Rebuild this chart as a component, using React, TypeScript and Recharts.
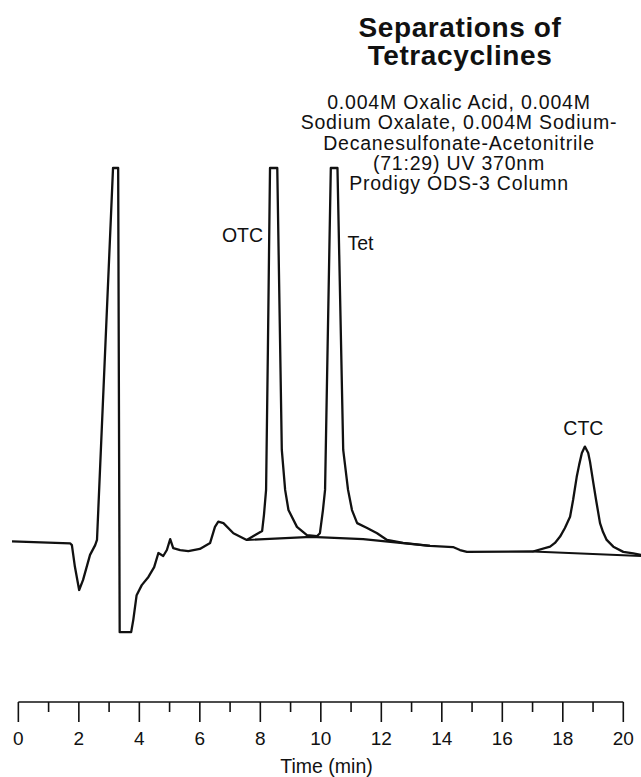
import React from "react";
import { LineChart, Line, XAxis, YAxis, ReferenceLine, ReferenceDot } from "recharts";

// retention time (min) and detector signal (arbitrary units, off-scale peaks clipped at 100)
const traceTime = [
  -0.21, 1.71, 1.77, 1.87, 2.01, 2.14, 2.37, 2.54, 2.6, 3.13, 3.3, 3.35, 3.73, 3.8, 3.91, 4.08,
  4.3, 4.49, 4.63, 4.79, 4.91, 5.02, 5.12, 5.35, 5.62, 6.0, 6.34, 6.5, 6.61, 6.78, 7.11, 7.55,
  7.83, 8.06, 8.12, 8.19, 8.25, 8.32, 8.56, 8.71, 8.82, 8.93, 9.21, 9.54, 9.87, 9.97, 10.07,
  10.14, 10.33, 10.55, 10.74, 10.9, 11.03, 11.2, 11.53, 11.86, 12.19, 12.72, 13.61, 14.37,
  14.6, 14.83, 17.01, 17.58, 17.74, 17.91, 18.07, 18.24, 18.34, 18.46, 18.54, 18.63, 18.73,
  18.84, 18.9, 19.01, 19.1, 19.23, 19.33, 19.45, 19.67, 20.0, 20.33, 20.585,
];
const traceSignal = [
  0, -0.5, -1.0, -6.8, -13.0, -10.3, -3.6, -1.0, 0.4, 100, 100, -24.3, -24.3, -21.0, -14.4,
  -11.7, -9.5, -6.9, -3.1, -3.9, -2.3, 0.6, -1.8, -2.3, -2.6, -2.0, -0.4, 3.9, 5.3, 4.9, 2.2,
  0.4, 1.7, 2.8, 7.1, 13.8, 51.3, 100, 100, 24.5, 13.8, 8.4, 3.9, 1.7, 1.4, 2.2, 8.4, 13.8,
  100, 100, 24.5, 13.8, 8.4, 4.9, 3.6, 2.2, 0.4, -0.4, -1.2, -1.5, -2.3, -2.8, -2.7, -1.4,
  -0.4, 1.3, 3.6, 6.6, 11.1, 17.3, 20.5, 23.7, 25.4, 23.7, 21.3, 15.6, 11.1, 4.9, 2.5, 0.4,
  -1.4, -2.8, -3.2, -3.6,
];

// drawn integration baselines
const otcTetBaseTime = [7.55, 9.68, 11.4, 13.61];
const otcTetBaseSignal = [0.4, 1.2, 0.6, -1.2];
const ctcBaseTime = [17.01, 20.585];
const ctcBaseSignal = [-2.7, -3.9];

const peakNames = ["OTC", "Tet", "CTC"];
const peakLabelTime = [7.41, 11.31, 18.68];
const peakLabelSignal = [82, 80, 30.3];

const timeTicks = [0, 1, 2, 3, 4, 5, 6, 7, 8, 9, 10, 11, 12, 13, 14, 15, 16, 17, 18, 19, 20];

const titleLines = ["Separations of", "Tetracyclines"];
const conditionLines = [
  "0.004M Oxalic Acid, 0.004M",
  "Sodium Oxalate, 0.004M Sodium-",
  "Decanesulfonate-Acetonitrile",
  "(71:29) UV 370nm",
  "Prodigy ODS-3 Column",
];

const toPoints = (ts: number[], vs: number[]) => ts.map((t, i) => ({ t, signal: vs[i] }));

const trace = toPoints(traceTime, traceSignal);
const otcTetBase = toPoints(otcTetBaseTime, otcTetBaseSignal);
const ctcBase = toPoints(ctcBaseTime, ctcBaseSignal);

const INK = "#111";
const FONT = '"Liberation Sans", Arial, Helvetica, sans-serif';

const TimeTick = (props: any) => {
  const { x, y, payload } = props;
  const major = payload.value % 2 === 0;
  return (
    <g>
      <line x1={x} y1={y} x2={x} y2={y + (major ? 20 : 10)} stroke={INK} strokeWidth={1.6} />
      {major && (
        <text x={x} y={y + 43} textAnchor="middle" fontSize={19} fill={INK}>
          {payload.value}
        </text>
      )}
    </g>
  );
};

export default function App() {
  return (
    <div style={{ position: "absolute", left: 0, top: 0, width: 641, height: 777, fontFamily: FONT, background: "#fff" }}>
      <LineChart width={641} height={777} margin={{ top: 168, right: 0, bottom: 0, left: 12 }}>
        <XAxis
          dataKey="t"
          type="number"
          domain={[-0.21, 20.585]}
          ticks={timeTicks}
          interval={0}
          tickSize={0}
          tickMargin={0}
          axisLine={false}
          tickLine={false}
          tick={<TimeTick />}
          height={75}
          label={{ value: "Time (min)", position: "insideBottom", offset: 4, fontSize: 19.5, fill: INK }}
        />
        <YAxis hide type="number" domain={[-43, 100]} />
        <ReferenceLine
          segment={[
            { x: 0, y: -43 },
            { x: 20, y: -43 },
          ]}
          stroke={INK}
          strokeWidth={1.6}
        />
        <Line
          data={trace}
          dataKey="signal"
          type="linear"
          stroke={INK}
          strokeWidth={2.3}
          strokeLinejoin="round"
          dot={false}
          activeDot={false}
          isAnimationActive={false}
        />
        <Line
          data={otcTetBase}
          dataKey="signal"
          type="linear"
          stroke={INK}
          strokeWidth={2.2}
          dot={false}
          activeDot={false}
          isAnimationActive={false}
        />
        <Line
          data={ctcBase}
          dataKey="signal"
          type="linear"
          stroke={INK}
          strokeWidth={2.2}
          dot={false}
          activeDot={false}
          isAnimationActive={false}
        />
        {peakNames.map((name, i) => (
          <ReferenceDot
            key={name}
            x={peakLabelTime[i]}
            y={peakLabelSignal[i]}
            r={0}
            fill="none"
            stroke="none"
            label={{ value: name, position: "center", fontSize: 19.5, fill: INK }}
          />
        ))}
      </LineChart>
      <svg
        width={641}
        height={200}
        style={{ position: "absolute", left: 0, top: 0, pointerEvents: "none" }}
      >
        {titleLines.map((line, i) => (
          <text
            key={line}
            x={460}
            y={37 + i * 28}
            textAnchor="middle"
            fontSize={28}
            fontWeight="bold"
            letterSpacing={0.6}
            fill={INK}
          >
            {line}
          </text>
        ))}
        {conditionLines.map((line, i) => (
          <text
            key={line}
            x={459}
            y={109 + i * 20.3}
            textAnchor="middle"
            fontSize={19.5}
            letterSpacing={0.8}
            fill={INK}
          >
            {line}
          </text>
        ))}
      </svg>
    </div>
  );
}
